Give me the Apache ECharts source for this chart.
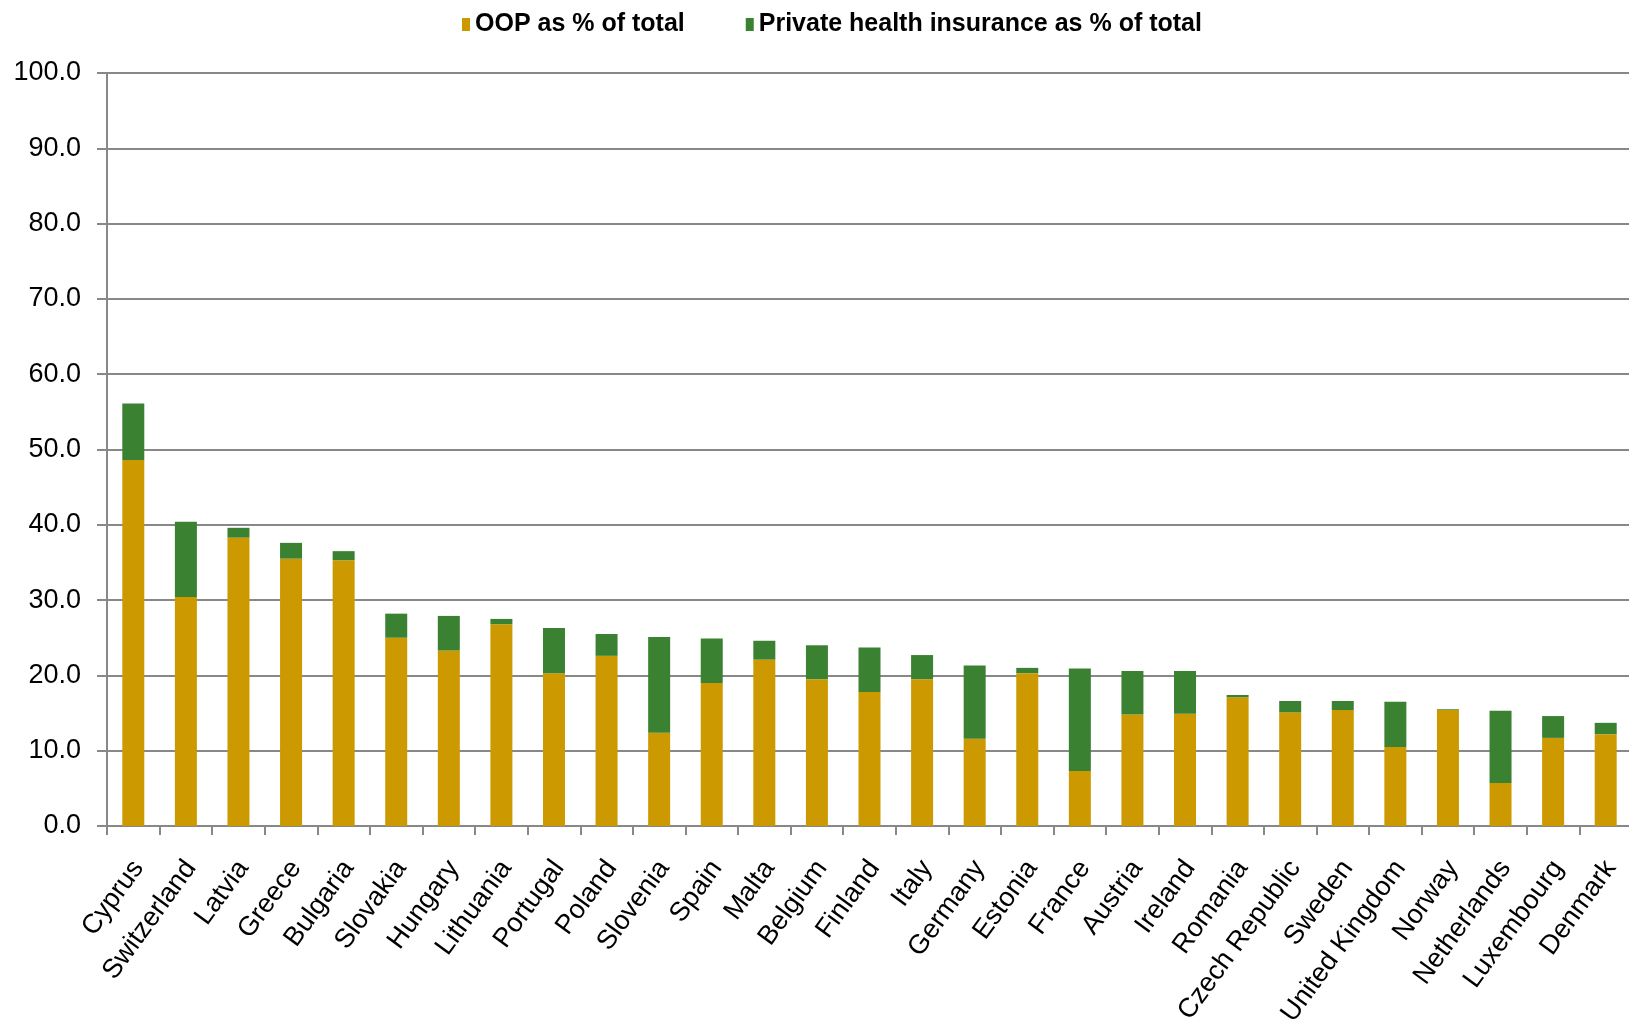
<!DOCTYPE html>
<html>
<head>
<meta charset="utf-8">
<script src="https://cdn.jsdelivr.net/npm/echarts@6/dist/echarts.min.js"></script>
<style>
  html, body { margin: 0; padding: 0; background: #ffffff; }
  #chart { width: 1629px; height: 1021px; }
</style>
</head>
<body>
<div id="chart"></div>
<script>
// Countries, ordered by total private share of health spending
const countries = [
  'Cyprus', 'Switzerland', 'Latvia', 'Greece', 'Bulgaria', 'Slovakia', 'Hungary',
  'Lithuania', 'Portugal', 'Poland', 'Slovenia', 'Spain', 'Malta', 'Belgium',
  'Finland', 'Italy', 'Germany', 'Estonia', 'France', 'Austria', 'Ireland',
  'Romania', 'Czech Republic', 'Sweden', 'United Kingdom', 'Norway',
  'Netherlands', 'Luxembourg', 'Denmark'
];

// Out-of-pocket payments, % of total health expenditure
const oopShare = [
  48.6, 30.4, 38.3, 35.5, 35.3, 25.0, 23.3,
  26.8, 20.3, 22.6, 12.4, 19.0, 22.1, 19.5,
  17.8, 19.5, 11.6, 20.3, 7.3, 14.8, 14.9,
  17.1, 15.1, 15.4, 10.5, 15.4,
  5.7, 11.7, 12.2
];

// Private health insurance, % of total health expenditure
const phiShare = [
  7.5, 10.0, 1.3, 2.1, 1.2, 3.2, 4.6,
  0.7, 6.0, 2.9, 12.7, 5.9, 2.5, 4.5,
  5.9, 3.2, 9.7, 0.7, 13.6, 5.8, 5.7,
  0.3, 1.5, 1.2, 6.0, 0.1,
  9.6, 2.9, 1.5
];

// Value axis ticks
const yMin = 0;
const yMax = 100;
const yStep = 10;

const FONT = '"Liberation Sans", Arial, sans-serif';
const AXIS_GREY = '#888888';

const chart = echarts.init(document.getElementById('chart'), null, { renderer: 'canvas' });

chart.setOption({
  animation: false,
  backgroundColor: '#ffffff',
  textStyle: { fontFamily: FONT },
  legend: {
    left: 457,
    top: 7,
    itemWidth: 8,
    itemHeight: 13,
    itemGap: 61,
    icon: 'rect',
    textStyle: { fontFamily: FONT, fontSize: 25, fontWeight: 'bold', color: '#000000' },
    data: ['OOP as % of total', 'Private health insurance as % of total']
  },
  grid: {
    left: 107,
    right: -3,
    top: 73,
    bottom: 195,
    containLabel: false,
    outerBoundsMode: 'none'
  },
  xAxis: {
    type: 'category',
    data: countries,
    axisLine: { lineStyle: { color: AXIS_GREY, width: 2 } },
    axisTick: { show: true, alignWithLabel: false, length: 9, lineStyle: { color: AXIS_GREY, width: 2 } },
    axisLabel: {
      interval: 0,
      rotate: 54,
      margin: 34,
      verticalAlign: 'top',
      lineHeight: 12,
      fontFamily: FONT,
      fontSize: 27,
      color: '#000000'
    }
  },
  yAxis: {
    type: 'value',
    min: yMin,
    max: yMax,
    interval: yStep,
    axisLine: { show: true, lineStyle: { color: AXIS_GREY, width: 2 } },
    axisTick: { show: true, length: 10, lineStyle: { color: AXIS_GREY, width: 2 } },
    splitLine: { show: true, lineStyle: { color: AXIS_GREY, width: 2 } },
    axisLabel: {
      margin: 26,
      fontFamily: FONT,
      fontSize: 27,
      color: '#000000',
      formatter: v => v.toFixed(1)
    }
  },
  series: [
    {
      name: 'OOP as % of total',
      type: 'bar',
      stack: 'private',
      barWidth: 22,
      itemStyle: { color: '#CC9900' },
      data: oopShare
    },
    {
      name: 'Private health insurance as % of total',
      type: 'bar',
      stack: 'private',
      barWidth: 22,
      itemStyle: { color: '#3B8132' },
      data: phiShare
    }
  ]
});
</script>
</body>
</html>
